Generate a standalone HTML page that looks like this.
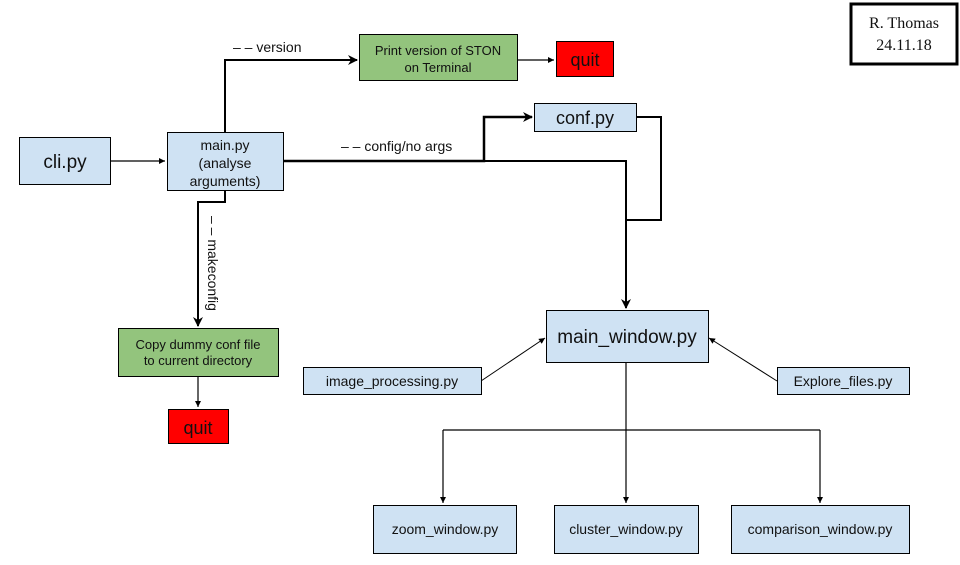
<!DOCTYPE html>
<html><head><meta charset="utf-8"><style>
body{margin:0;background:#fff;}
svg{display:block;font-family:"Liberation Sans",Arial,sans-serif;}
</style></head><body>
<svg width="960" height="565" viewBox="0 0 960 565" xmlns="http://www.w3.org/2000/svg">
<defs>
<marker id="a" markerWidth="10" markerHeight="10" refX="9" refY="5" orient="auto" markerUnits="userSpaceOnUse"><path d="M0,0 L10,5 L0,10 L3,5 z" fill="#000"/></marker>
<marker id="s" markerWidth="6" markerHeight="6" refX="6" refY="3" orient="auto" markerUnits="userSpaceOnUse"><path d="M0,0 L6,3 L0,6 z" fill="#000"/></marker>
</defs>
<g fill="none" stroke="#000">
<path d="M225,132 V60 H357" stroke-width="2" marker-end="url(#a)"/>
<path d="M283,161 H484 V117 H532" stroke-width="2.5" marker-end="url(#a)"/>
<path d="M484,161 H626 V308" stroke-width="2" marker-end="url(#a)"/>
<path d="M636,117 H661 V220 H626" stroke-width="2"/>
<path d="M225,190 V202 H198 V326" stroke-width="2" marker-end="url(#a)"/>
<path d="M110,161 H165" stroke-width="1.2" marker-end="url(#s)"/>
<path d="M517,60 H554" stroke-width="1.2" marker-end="url(#s)"/>
<path d="M198,376 V407" stroke-width="1.2" marker-end="url(#s)"/>
<path d="M481,381 L545,338" stroke-width="1" marker-end="url(#s)"/>
<path d="M777,381 L709,338" stroke-width="1" marker-end="url(#s)"/>
<path d="M626,362 V503" stroke-width="1.2" marker-end="url(#s)"/>
<path d="M443,430 H820" stroke-width="1.2"/>
<path d="M443,430 V503" stroke-width="1.2" marker-end="url(#s)"/>
<path d="M820,430 V503" stroke-width="1.2" marker-end="url(#s)"/>
</g>
<g stroke="#000" stroke-width="1">
<rect x="19.5" y="137.5" width="91" height="47" fill="#cfe2f3"/>
<rect x="167.5" y="132.5" width="116" height="58" fill="#cfe2f3"/>
<rect x="359.5" y="34.5" width="158" height="46" fill="#93c47d"/>
<rect x="556.5" y="41.5" width="57" height="35" fill="#ff0000"/>
<rect x="534.5" y="103.5" width="102" height="28" fill="#cfe2f3"/>
<rect x="118.5" y="328.5" width="160" height="48" fill="#93c47d"/>
<rect x="168.5" y="409.5" width="60" height="34" fill="#ff0000"/>
<rect x="546.5" y="310.5" width="162" height="52" fill="#cfe2f3"/>
<rect x="303.5" y="367.5" width="178" height="27" fill="#cfe2f3"/>
<rect x="777.5" y="367.5" width="132" height="27" fill="#cfe2f3"/>
<rect x="373.5" y="505.5" width="143" height="48" fill="#cfe2f3"/>
<rect x="554.5" y="505.5" width="144" height="48" fill="#cfe2f3"/>
<rect x="731.5" y="505.5" width="178" height="48" fill="#cfe2f3"/>
<rect x="851" y="4" width="106" height="60" fill="#fff" stroke-width="3"/>
</g>
<g fill="#111" text-anchor="middle">
<text x="65" y="168" font-size="19">cli.py</text>
<text x="225" y="150" font-size="14">main.py</text>
<text x="225" y="168" font-size="14">(analyse</text>
<text x="225" y="186" font-size="14">arguments)</text>
<text x="438" y="55" font-size="13">Print version of STON</text>
<text x="438" y="72" font-size="13">on Terminal</text>
<text x="585" y="66" font-size="18">quit</text>
<text x="585" y="124" font-size="18">conf.py</text>
<text x="198" y="349" font-size="13">Copy dummy conf file</text>
<text x="198" y="365" font-size="13">to current directory</text>
<text x="198" y="434" font-size="18">quit</text>
<text x="627" y="343" font-size="19">main_window.py</text>
<text x="392" y="386" font-size="14">image_processing.py</text>
<text x="843" y="386" font-size="14">Explore_files.py</text>
<text x="445" y="534" font-size="14">zoom_window.py</text>
<text x="626" y="534" font-size="14">cluster_window.py</text>
<text x="820" y="534" font-size="14">comparison_window.py</text>
<text x="904" y="28" font-size="16" font-family="Liberation Serif,serif">R. Thomas</text>
<text x="904" y="50" font-size="16" font-family="Liberation Serif,serif">24.11.18</text>
</g>
<g fill="#111" font-size="14">
<text x="233" y="52">– – version</text>
<text x="341" y="151">– – config/no args</text>
<text x="0" y="0" transform="translate(208,216) rotate(90)">– – makeconfig</text>
</g>
</svg>
</body></html>
